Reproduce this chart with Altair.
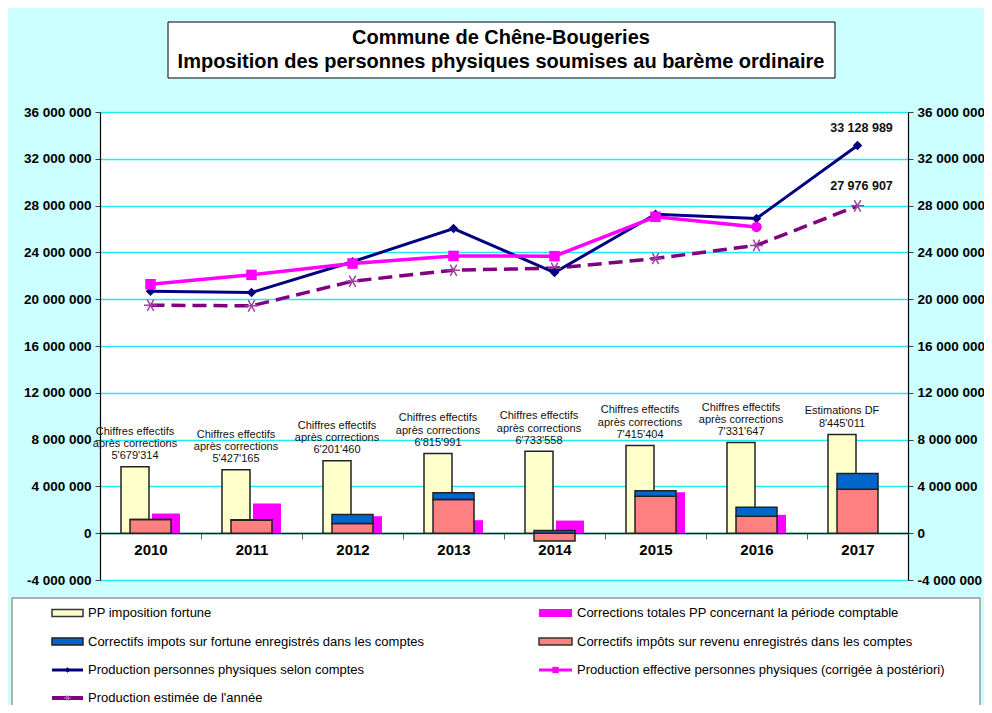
import altair as alt
import pandas as pd

# ---------------- data ----------------
years = ["2010", "2011", "2012", "2013", "2014", "2015", "2016", "2017"]
fortune_pp = [5679314, 5427165, 6201460, 6815991, 7000000, 7500000, 7750000, 8445011]
fortune_labels = [
    "Chiffres effectifs\naprès corrections\n5'679'314",
    "Chiffres effectifs\naprès corrections\n5'427'165",
    "Chiffres effectifs\naprès corrections\n6'201'460",
    "Chiffres effectifs\naprès corrections\n6'815'991",
    "Chiffres effectifs\naprès corrections\n6'733'558",
    "Chiffres effectifs\naprès corrections\n7'415'404",
    "Chiffres effectifs\naprès corrections\n7'331'647",
    "Estimations DF\n8'445'011",
]
corr_revenu = [1170000, 1100000, 830000, 2880000, -660000, 3160000, 1450000, 3760000]
corr_fortune = [0, 50000, 770000, 570000, 230000, 460000, 770000, 1340000]
corr_totales = [1680000, 2540000, 1450000, 1110000, 1080000, 3500000, 1570000, None]
prod_comptes = [20680000, 20570000, 23200000, 26040000, 22280000, 27260000, 26900000, 33128989]
prod_effective = [21280000, 22080000, 23050000, 23700000, 23680000, 27040000, 26180000, None]
prod_effective_shape = ["square"] * 6 + ["circle", "square"]
prod_estimee = [19490000, 19430000, 21540000, 22480000, 22650000, 23480000, 24600000, 27976907]

title_lines = ["Commune de Chêne-Bougeries",
               "Imposition des personnes physiques soumises au barème ordinaire"]
legend_left = ["PP imposition fortune",
               "Correctifs impots sur fortune enregistrés dans les comptes",
               "Production personnes physiques selon comptes",
               "Production estimée de l'année"]
legend_right = ["Corrections totales PP concernant la période comptable",
                "Correctifs impôts sur revenu enregistrés dans les comptes",
                "Production effective personnes physiques (corrigée à postériori)"]
parts = ["Correctifs revenu", "Correctifs fortune"]

# ---------------- styles ----------------
YELLOW = "#ffffcc"
BLUE = "#0066cc"
SALMON = "#ff8080"
MAGENTA = "#ff00ff"
NAVY = "#000080"
PURPLE = "#800080"
BG = "#ccffff"
GRID = "#22eaf4"
FONT = "Liberation Sans"
ASTERISK = "M-1,0L1,0M-0.5,-0.866L0.5,0.866M-0.5,0.866L0.5,-0.866"

W, H = 808, 468

bars_df = pd.DataFrame({"year": years, "fortune": fortune_pp,
                        "label": fortune_labels, "totales": corr_totales})
stack_df = pd.DataFrame({
    "year": years * 2,
    "part": [parts[0]] * 8 + [parts[1]] * 8,
    "value": corr_revenu + corr_fortune,
    "ord": [0] * 8 + [1] * 8,
})
lines_df = pd.DataFrame({"year": years, "comptes": prod_comptes,
                         "effective": prod_effective, "shape": prod_effective_shape,
                         "estimee": prod_estimee})
one = pd.DataFrame({"k": [0]})

ticks = list(range(-4000000, 36000001, 4000000))
fmt = ("replace(replace(format(datum.value, ','), regexp(',', 'g'), ' '), "
       "regexp('\u2212', 'g'), '-')")

Ysc = alt.Scale(domain=[-4000000, 36000000], nice=False, zero=False)
X = alt.X("year:O", title=None,
          scale=alt.Scale(paddingInner=0, paddingOuter=0),
          axis=alt.Axis(orient="bottom", offset=-47, labelAngle=0, labelFontSize=15,
                        labelFontWeight="bold", labelColor="black", labelFont=FONT,
                        tickBand="extent", tickColor="#666", tickSize=6, labelPadding=3,
                        domainColor="#222", domainWidth=1.5, grid=False))
left_axis = alt.Axis(orient="left", values=ticks, labelExpr=fmt, labelFontSize=13.5,
                     labelFontWeight="bold", labelColor="black", labelFont=FONT,
                     tickColor="#444", tickSize=5, labelPadding=4,
                     domainColor="black", domainWidth=1.2,
                     grid=True, gridColor=GRID, gridWidth=1.3, title=None)
right_axis = alt.Axis(orient="right", values=ticks, labelExpr=fmt, labelFontSize=13.5,
                      labelFontWeight="bold", labelColor="black", labelFont=FONT,
                      tickColor="#444", tickSize=5, labelPadding=4,
                      domainColor="black", domainWidth=1.2, grid=False, title=None)

# ---------------- decoration (title box, legend box) ----------------
def deco_rect(x, x2, y, y2, fill, stroke=None, sw=1):
    kw = dict(fill=fill, strokeWidth=sw)
    if stroke:
        kw["stroke"] = stroke
    return alt.Chart(one).mark_rect(**kw).encode(
        x=alt.value(x), x2=alt.value(x2), y=alt.value(y), y2=alt.value(y2))


def deco_text(txt, x, y, size=12, weight="normal", align="left"):
    return alt.Chart(one).mark_text(fontSize=size, fontWeight=weight, align=align,
                                    baseline="middle", font=FONT, color="black").encode(
        x=alt.value(x), y=alt.value(y), text=alt.value(txt))


layers = []
layers.append(deco_rect(68, 735, -90, -34, "white", "black", 1))
layers.append(deco_text(title_lines[0], 401, -74, 20, "bold", "center"))
layers.append(deco_text(title_lines[1], 401, -50, 20, "bold", "center"))
layers.append(deco_rect(-88, 880, 486, 610, "white", "#999", 1.5))

# ---------------- bars ----------------
yellow = alt.Chart(bars_df).mark_bar(width=28, xOffset=-15.5, fill=YELLOW,
                                     stroke="#222", strokeWidth=1.5).encode(
    x=X, y=alt.Y("fortune:Q", scale=Ysc, axis=left_axis))
magenta_bar = alt.Chart(bars_df).mark_bar(width=28, xOffset=15.5, fill=MAGENTA).encode(
    x=X, y=alt.Y("totales:Q", scale=Ysc, axis=None))
stacked = alt.Chart(stack_df).mark_bar(width=41, stroke="#222", strokeWidth=1.5).encode(
    x=X,
    y=alt.Y("value:Q", stack="zero", scale=Ysc, axis=None),
    color=alt.Color("part:N", scale=alt.Scale(domain=parts, range=[SALMON, BLUE]), legend=None),
    order=alt.Order("ord:Q"))


def bar_text(filt, dy):
    return alt.Chart(bars_df).transform_filter(filt).mark_text(
        lineBreak="\n", baseline="middle", dx=-15.5, dy=dy,
        fontSize=11, lineHeight=12.3, font=FONT, color="#111").encode(
        x=X, y=alt.Y("fortune:Q", scale=Ysc, axis=None), text="label:N")


text3 = bar_text("indexof(datum.label, 'Estimations') < 0", -35)
text2 = bar_text("indexof(datum.label, 'Estimations') >= 0", -23)

# ---------------- lines ----------------
est_line = alt.Chart(lines_df).mark_line(color=PURPLE, strokeWidth=3.5,
                                         strokeDash=[14, 7]).encode(
    x=X, y=alt.Y("estimee:Q", scale=Ysc, axis=None))
comptes_line = alt.Chart(lines_df).mark_line(color=NAVY, strokeWidth=3).encode(
    x=X, y=alt.Y("comptes:Q", scale=Ysc, axis=right_axis))
eff_line = alt.Chart(lines_df).mark_line(color=MAGENTA, strokeWidth=3.5).encode(
    x=X, y=alt.Y("effective:Q", scale=Ysc, axis=None))
est_pts = alt.Chart(lines_df).mark_point(shape=ASTERISK, filled=False, size=170,
                                         strokeWidth=1.5, color="#a040a0", opacity=1).encode(
    x=X, y=alt.Y("estimee:Q", scale=Ysc, axis=None))
comptes_pts = alt.Chart(lines_df).mark_point(shape="diamond", filled=True, size=90,
                                             color=NAVY, opacity=1).encode(
    x=X, y=alt.Y("comptes:Q", scale=Ysc, axis=None))
eff_pts = alt.Chart(lines_df).transform_filter("datum.effective != null").mark_point(
    filled=True, size=110, color=MAGENTA, opacity=1).encode(
    x=X, y=alt.Y("effective:Q", scale=Ysc, axis=None),
    shape=alt.Shape("shape:N", scale=None))

end_comptes = alt.Chart(lines_df).transform_filter("datum.year == '2017'").transform_calculate(
    t="replace(format(datum.comptes, ','), regexp(',', 'g'), ' ')").mark_text(
    dy=-18, dx=4, fontSize=12.5, fontWeight="bold", font=FONT, color="#111").encode(
    x=X, y=alt.Y("comptes:Q", scale=Ysc, axis=None), text="t:N")
end_est = alt.Chart(lines_df).transform_filter("datum.year == '2017'").transform_calculate(
    t="replace(format(datum.estimee, ','), regexp(',', 'g'), ' ')").mark_text(
    dy=-20, dx=4, fontSize=12.5, fontWeight="bold", font=FONT, color="#111").encode(
    x=X, y=alt.Y("estimee:Q", scale=Ysc, axis=None), text="t:N")

layers += [yellow, magenta_bar, stacked, text3, text2, est_line, comptes_line, eff_line,
           est_pts, comptes_pts, eff_pts, end_comptes, end_est]

# ---------------- legend (manual) ----------------
rows = [501, 529.5, 558, 586]
LX0, LX1, LT = -48, -17, -12
RX0, RX1, RT = 439, 472, 477
LEG_FS = 13

# left column
layers.append(deco_rect(LX0, LX1, rows[0] - 3.5, rows[0] + 3.5, YELLOW, "#333", 1.5))
layers.append(deco_rect(LX0, LX1, rows[1] - 3.5, rows[1] + 3.5, BLUE, "#222", 1.5))
layers.append(alt.Chart(one).mark_rule(color=NAVY, strokeWidth=3).encode(
    x=alt.value(LX0), x2=alt.value(LX1), y=alt.value(rows[2])))
layers.append(alt.Chart(one).mark_point(shape="diamond", filled=True, size=30, color=NAVY,
                                        opacity=1).encode(
    x=alt.value((LX0 + LX1) / 2), y=alt.value(rows[2])))
layers.append(alt.Chart(one).mark_rule(color=PURPLE, strokeWidth=4).encode(
    x=alt.value(LX0), x2=alt.value(LX1), y=alt.value(rows[3])))
layers.append(alt.Chart(one).mark_point(shape=ASTERISK, filled=False, size=50,
                                        color="#c080c0", strokeWidth=1, opacity=1).encode(
    x=alt.value((LX0 + LX1) / 2), y=alt.value(rows[3])))
for i, t in enumerate(legend_left):
    layers.append(deco_text(t, LT, rows[i], LEG_FS))

# right column
layers.append(deco_rect(RX0, RX1, rows[0] - 4, rows[0] + 4, MAGENTA))
layers.append(deco_rect(RX0, RX1, rows[1] - 3.5, rows[1] + 3.5, SALMON, "#333", 1.5))
layers.append(alt.Chart(one).mark_rule(color=MAGENTA, strokeWidth=3).encode(
    x=alt.value(RX0), x2=alt.value(RX1), y=alt.value(rows[2])))
layers.append(alt.Chart(one).mark_point(shape="square", filled=True, size=40, color=MAGENTA,
                                        opacity=1).encode(
    x=alt.value((RX0 + RX1) / 2), y=alt.value(rows[2])))
for i, t in enumerate(legend_right):
    layers.append(deco_text(t, RT, rows[i], LEG_FS))

chart = alt.layer(*layers).resolve_axis(y="independent").properties(
    width=W, height=H,
    autosize=alt.AutoSizeParams(type="none"),
    padding={"left": 92, "top": 104, "right": 76, "bottom": 125},
    background=BG,
).configure_view(stroke=None, fill="white")

chart.save("out.html", embed_options={"renderer": "svg", "actions": False})
